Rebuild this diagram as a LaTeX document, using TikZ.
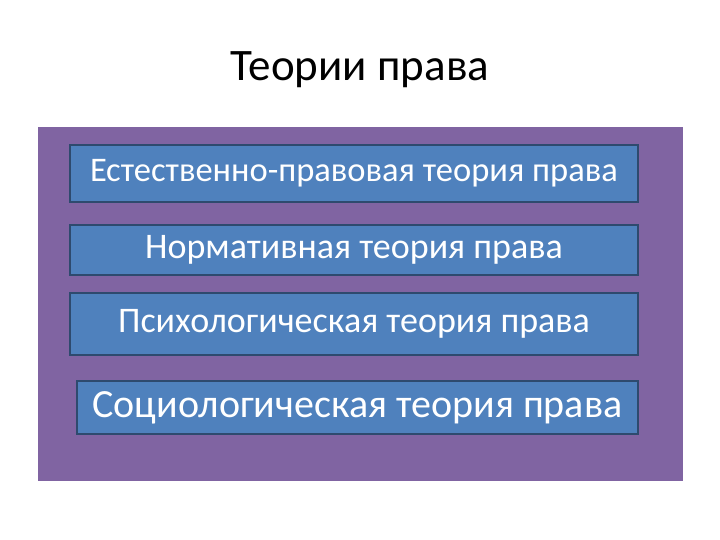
\documentclass[tikz,border=0pt]{standalone}
\usepackage{fontspec}
\setmainfont{Carlito}
\definecolor{purp}{HTML}{8064A2}
\definecolor{bl}{HTML}{4F81BD}
\definecolor{bld}{HTML}{2E4A6E}
\begin{document}
\begin{tikzpicture}[x=1pt,y=-1pt,
  tbox/.style={draw=bld,line width=1.2pt,fill=bl,text=white,inner sep=0pt}]
\useasboundingbox (0,0) rectangle (720,540);
\fill[white] (0,0) rectangle (720,540);
\node (title) at (360,70) {\fontsize{45}{54}\selectfont Теории права};
\fill[purp] (38,127) rectangle (683,481);
\node[tbox,minimum width=568pt,minimum height=57pt] (b1) at (354,173.5) {\fontsize{34.5}{40}\selectfont Естественно-правовая теория права};
\node[tbox,minimum width=568pt,minimum height=50pt] (b2) at (354,250) {\fontsize{36}{42}\selectfont Нормативная теория права};
\node[tbox,minimum width=568pt,minimum height=62pt] (b3) at (354,324) {\fontsize{36}{42}\selectfont Психологическая теория права};
\node[tbox,minimum width=561pt,minimum height=53pt] (b4) at (357.5,407.5) {\fontsize{40}{46}\selectfont Социологическая теория права};
\end{tikzpicture}
\end{document}
